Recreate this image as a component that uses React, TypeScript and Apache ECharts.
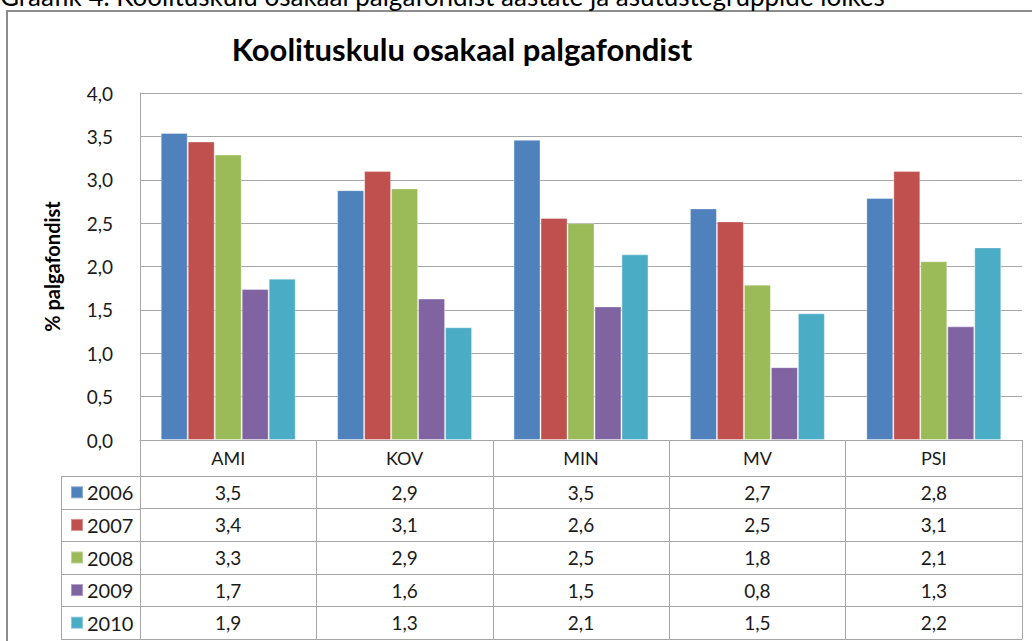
import React, { useEffect, useRef } from 'react';
import * as echarts from 'echarts';

const categories = ['AMI', 'KOV', 'MIN', 'MV', 'PSI'];
const years = ['2006', '2007', '2008', '2009', '2010'];
const v2006 = [3.54, 2.88, 3.46, 2.67, 2.79];
const v2007 = [3.44, 3.1, 2.56, 2.52, 3.1];
const v2008 = [3.29, 2.9, 2.5, 1.79, 2.06];
const v2009 = [1.74, 1.63, 1.54, 0.84, 1.31];
const v2010 = [1.86, 1.3, 2.14, 1.46, 2.22];
const seriesValues = [v2006, v2007, v2008, v2009, v2010];
const colors = ['#4F81BD', '#C0504D', '#9BBB59', '#8064A2', '#4BACC6'];
const yMin = 0;
const yMax = 4;
const yStep = 0.5;
const chartTitle = 'Koolituskulu osakaal palgafondist';
const captionText = 'Graafik 4. Koolituskulu osakaal palgafondist aastate ja asutustegruppide lõikes';
const yAxisName = '% palgafondist';

const fmt = (v: number) => v.toFixed(1).replace('.', ',');

export default function App() {
  const ref = useRef<HTMLDivElement>(null);
  useEffect(() => {
    const chart = echarts.init(ref.current!, null, { renderer: 'svg' });
    const gridLeft = 140;
    const gridRight = 1022;
    const gridTop = 93;
    const gridBottom = 440;
    const headerH = 36;
    const tableBottom = 639;
    const rowH = (tableBottom - gridBottom - headerH) / years.length;
    const rowTops = years.map((_, i) => gridBottom + headerH + i * rowH);
    const legendLeft = 61;
    const font = 'Lato, "Open Sans", sans-serif';
    const lineColor = '#a6a6a6';
    const textColor = '#1a1a1a';

    const xAxes: any[] = [
      {
        type: 'category',
        data: categories,
        position: 'bottom',
        offset: 0,
        axisLine: { show: true, lineStyle: { color: lineColor } },
        axisTick: { show: true, length: tableBottom - gridBottom, interval: 0, lineStyle: { color: lineColor } },
        axisLabel: { interval: 0, margin: headerH / 2, verticalAlign: 'middle', fontSize: 18, color: textColor, fontFamily: font },
      },
      ...years.map((_, r) => ({
        type: 'category',
        data: categories,
        position: 'bottom',
        offset: headerH + r * rowH,
        axisLine: { show: true, lineStyle: { color: lineColor } },
        axisTick: { show: false },
        axisLabel: {
          interval: 0,
          margin: rowH / 2,
          verticalAlign: 'middle',
          fontSize: 19,
          color: textColor,
          fontFamily: font,
          formatter: (_v: string, idx: number) => fmt(seriesValues[r][idx]),
        },
      })),
      {
        type: 'category',
        data: categories,
        position: 'bottom',
        offset: tableBottom - gridBottom,
        axisLine: { show: true, lineStyle: { color: lineColor } },
        axisTick: { show: false },
        axisLabel: { show: false },
      },
    ];

    const legendLines: any[] = [
      { type: 'line', shape: { x1: legendLeft + 0.5, y1: rowTops[0], x2: legendLeft + 0.5, y2: tableBottom }, style: { stroke: lineColor, lineWidth: 1 } },
      ...[...rowTops, tableBottom].map((y) => ({
        type: 'line',
        shape: { x1: legendLeft, y1: Math.round(y) + 0.5, x2: gridLeft, y2: Math.round(y) + 0.5 },
        style: { stroke: lineColor, lineWidth: 1 },
      })),
    ];

    chart.setOption({
      animation: false,
      backgroundColor: '#ffffff',
      title: {
        text: chartTitle,
        left: 462,
        top: 33,
        padding: 0,
        textAlign: 'center',
        textStyle: { fontSize: 31, fontWeight: 'bold', fontFamily: font, color: '#000' },
      },
      legend: years.map((y, i) => ({
        data: [y],
        left: 70,
        top: rowTops[i] + rowH / 2 - 10,
        padding: 0,
        itemWidth: 12,
        itemHeight: 12,
        itemGap: 5,
        icon: 'rect',
        selectedMode: false,
        textStyle: { fontSize: 20, lineHeight: 20, color: textColor, fontFamily: font, padding: [0, 0, 0, -1] },
      })),
      grid: { left: gridLeft, right: 1032 - gridRight, top: gridTop, bottom: 641 - gridBottom, containLabel: false },
      xAxis: xAxes,
      yAxis: {
        type: 'value',
        min: yMin,
        max: yMax,
        interval: yStep,
        axisLine: { show: true, lineStyle: { color: lineColor } },
        axisTick: { show: false },
        splitLine: { lineStyle: { color: lineColor } },
        axisLabel: { formatter: (v: number) => fmt(v), fontSize: 19, margin: 27, color: textColor, fontFamily: font },
        name: yAxisName,
        nameLocation: 'middle',
        nameRotate: 90,
        nameGap: 78,
        nameTextStyle: { fontSize: 20, fontWeight: 'bold', fontFamily: font, color: '#000' },
      },
      series: years.map((y, i) => ({
        name: y,
        type: 'bar',
        data: seriesValues[i],
        xAxisIndex: 0,
        barGap: '0%',
        barCategoryGap: '23.5%',
        itemStyle: { color: colors[i], borderColor: 'rgba(255,255,255,0.35)', borderWidth: 1 },
      })),
      graphic: [
        { type: 'rect', shape: { x: 7, y: 11, width: 1100, height: 700 }, style: { fill: 'none', stroke: '#8c8c8c', lineWidth: 2 }, silent: true },
        { type: 'text', x: 0, y: -4, style: { text: captionText, fontSize: 26, fontFamily: font, fill: '#000', textAlign: 'left', textVerticalAlign: 'middle' }, silent: true },
        ...legendLines,
      ],
    });
    return () => chart.dispose();
  }, []);
  return <div ref={ref} style={{ position: 'absolute', left: 0, top: 0, width: 1032, height: 641, background: '#fff' }} />;
}
